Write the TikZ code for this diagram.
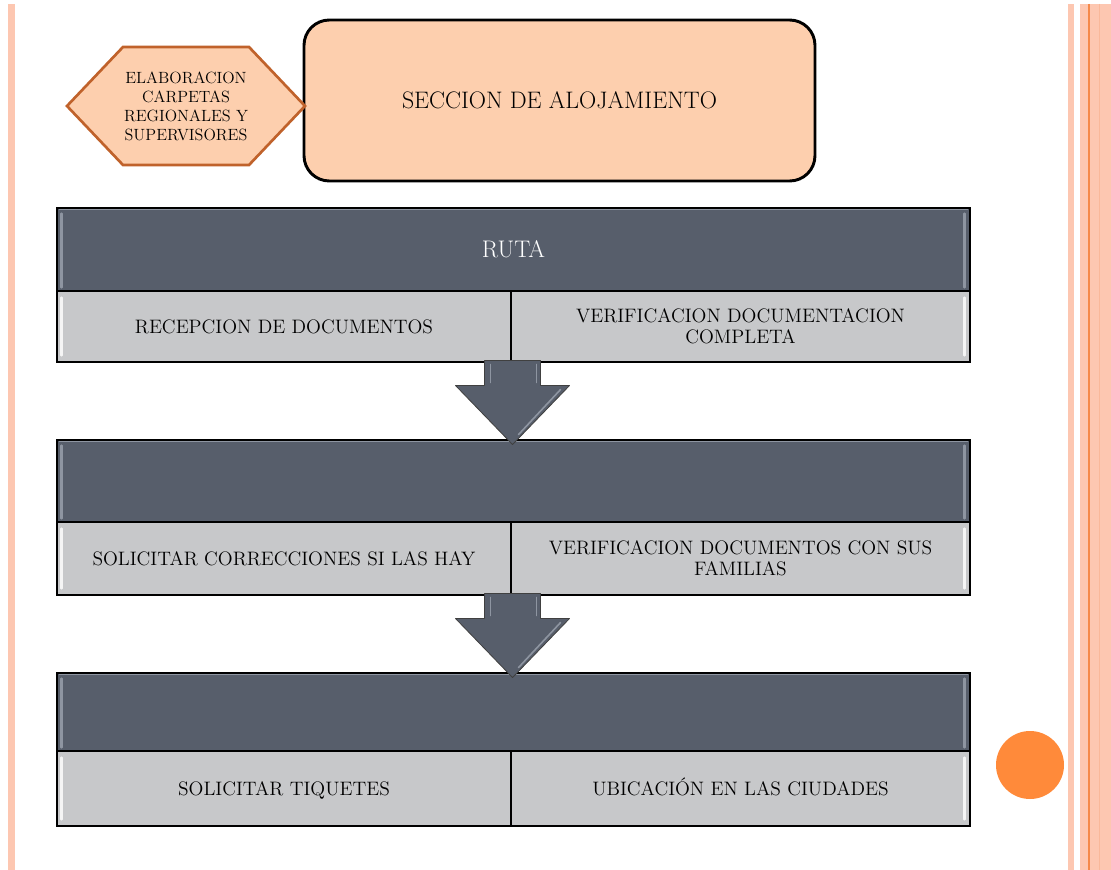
\documentclass[tikz,border=0pt]{standalone}
\usetikzlibrary{calc}
\definecolor{stripe}{HTML}{FDC7B1}
\definecolor{stripeline}{HTML}{F5894A}
\definecolor{stripemid}{HTML}{F9B89A}
\definecolor{peach}{HTML}{FDCFAE}
\definecolor{hexborder}{HTML}{C0622B}
\definecolor{slate}{HTML}{575E6B}
\definecolor{slatelight}{HTML}{8E95A1}
\definecolor{cellgray}{HTML}{C7C8CA}
\definecolor{orangedot}{HTML}{FF8A3A}
\begin{document}
\begin{tikzpicture}[x=0.75pt,y=-0.75pt,
  header/.style={draw=black, line width=0.8pt, fill=slate, text=white,
    font=\fontsize{18}{21}\selectfont, inner sep=0pt, minimum width=913*0.75pt},
  cell/.style={draw=black, line width=0.8pt, fill=cellgray,
    font=\fontsize{14.6}{16}\selectfont, align=center, inner sep=0pt},
  lcell/.style={cell, minimum width=454*0.75pt},
  rcell/.style={cell, minimum width=459*0.75pt},
  onerow/.style={text height=10pt, text depth=0pt},
  hilite/.style={line width=1.6pt, line cap=round},
  bigarrow/.style={fill=slate, draw=black!75, line width=0.6pt, line join=round},
]
\useasboundingbox (0,0) rectangle (1111,870);
\fill[white] (0,0) rectangle (1111,870);

% decorative stripes
\fill[stripe] (7.5,4) rectangle (15,870);
\fill[stripe] (1068,4) rectangle (1073.5,870);
\fill[stripe] (1080,4) rectangle (1111,870);
\draw[stripeline, line width=0.9pt] (1089,4) -- (1089,870);
\draw[stripemid, line width=0.6pt] (1099,4) -- (1099,870);

% orange dot
\node[circle, fill=orangedot, minimum size=68*0.75pt, inner sep=0pt] (dot) at (1030,765) {};

% top shapes
\node[draw=black, line width=2.2pt, rounded corners=19pt, fill=peach,
  minimum width=511*0.75pt, minimum height=161*0.75pt,
  font=\fontsize{17.9}{21}\selectfont] (sec) at (559.5,100.5) {SECCION DE ALOJAMIENTO};

\coordinate (hexc) at (186,106);
\filldraw[fill=peach, draw=hexborder, line width=2pt, line join=miter]
  ($(hexc)+(-119,0)$) -- ($(hexc)+(-63,-59)$) -- ($(hexc)+(63,-59)$) --
  ($(hexc)+(119,0)$) -- ($(hexc)+(63,59)$) -- ($(hexc)+(-63,59)$) -- cycle;
\node[align=center, font=\fontsize{12.2}{14.3}\selectfont, inner sep=0pt] (hex) at (hexc)
  {ELABORACION\\CARPETAS\\REGIONALES Y\\SUPERVISORES};

% block 1
\node[header, minimum height=83*0.75pt] (h1) at (513.5,249.5) {RUTA};
\node[lcell, minimum height=71*0.75pt] (c1l) at (284,326.5) {RECEPCION DE DOCUMENTOS};
\node[rcell, minimum height=71*0.75pt] (c1r) at (740.5,326.5) {VERIFICACION DOCUMENTACION\\COMPLETA};

% block 2
\node[header, minimum height=82*0.75pt] (h2) at (513.5,481) {};
\node[lcell, minimum height=73*0.75pt] (c2l) at (284,558.5) {SOLICITAR CORRECCIONES SI LAS HAY};
\node[rcell, minimum height=73*0.75pt] (c2r) at (740.5,558.5) {VERIFICACION DOCUMENTOS CON SUS\\FAMILIAS};

% block 3
\node[header, minimum height=78*0.75pt] (h3) at (513.5,712) {};
\node[lcell, onerow, minimum height=75*0.75pt] (c3l) at (284,788.5) {SOLICITAR TIQUETES};
\node[rcell, onerow, minimum height=75*0.75pt] (c3r) at (740.5,788.5) {UBICACIÓN EN LAS CIUDADES};

% glossy highlights
\foreach \n in {h1,h2,h3}{
  \draw[slatelight, hilite] ($(\n.north west)+(5,6)$) -- ($(\n.south west)+(5,-4)$);
  \draw[slatelight, hilite] ($(\n.north east)+(-6,6)$) -- ($(\n.south east)+(-6,-4)$);
  \draw[slatelight, line width=0.8pt] ($(\n.north west)+(3,2)$) -- ($(\n.north east)+(-3,2)$);
}
\foreach \n in {c1l,c2l,c3l}{
  \draw[white!92!gray, hilite] ($(\n.north west)+(5,7)$) -- ($(\n.south west)+(5,-7)$);
}
\foreach \n in {c1r,c2r,c3r}{
  \draw[white!92!gray, hilite] ($(\n.north east)+(-6,7)$) -- ($(\n.south east)+(-6,-7)$);
}

% block arrows
\coordinate (a1) at ($(c1l.south east)+(1,0)$);
\coordinate (a2) at ($(c2l.south east)+(1,0)$);
\foreach \a in {a1,a2}{
  \filldraw[bigarrow] ($(\a)+(-28,-2)$) -- ($(\a)+(-28,23)$) -- ($(\a)+(-57,23)$) --
    ($(\a)+(0,82)$) -- ($(\a)+(57,23)$) -- ($(\a)+(28,23)$) -- ($(\a)+(28,-2)$) -- cycle;
  \draw[slatelight, line width=1.2pt, line cap=round] ($(\a)+(-22,2)$) -- ($(\a)+(-22,20)$);
  \draw[slatelight, line width=1.2pt, line cap=round] ($(\a)+(24,2)$) -- ($(\a)+(24,20)$);
  \draw[slatelight, line width=1.2pt, line cap=round] ($(\a)+(48,27)$) -- ($(\a)+(6,72)$);
}
\end{tikzpicture}
\end{document}
